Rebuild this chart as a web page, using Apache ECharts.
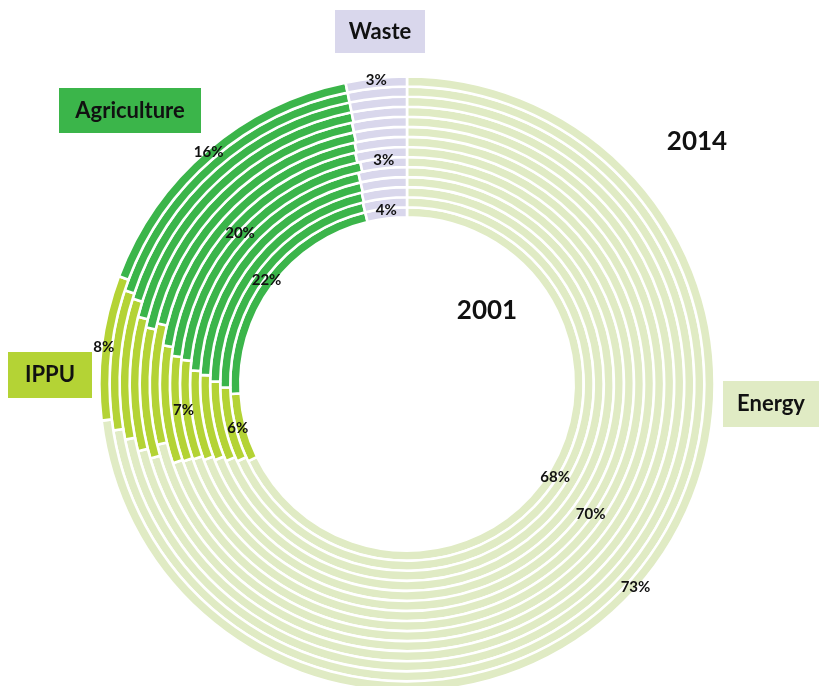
<!DOCTYPE html>
<html>
<head>
<meta charset="utf-8">
<script src="https://cdn.jsdelivr.net/npm/echarts@6/dist/echarts.min.js"></script>
<style>
  html, body { margin: 0; padding: 0; background: #fff; }
  #chart { width: 819px; height: 686px; }
</style>
</head>
<body>
<div id="chart"></div>
<script>
// ---- data (shares in % per year, inner ring = 2001, outer ring = 2014) ----
const years = [2001, 2002, 2003, 2004, 2005, 2006, 2007, 2008, 2009, 2010, 2011, 2012, 2013, 2014];
const categories = ['Energy', 'IPPU', 'Agriculture', 'Waste'];
const energy      = [67.8, 68.2, 68.6, 69.0, 69.3, 69.6, 69.7, 69.8, 71.2, 70.5, 71.1, 71.9, 72.5, 73.1];
const ippu        = [6.3, 6.5, 6.6, 6.7, 6.7, 7.1, 7.2, 7.7, 7.6, 7.9, 7.8, 7.9, 7.6, 7.6];
const agriculture = [22.1, 21.5, 21.1, 20.7, 20.4, 20.0, 19.6, 19.1, 17.9, 18.3, 17.9, 17.0, 16.7, 16.1];
const waste       = [3.8, 3.8, 3.7, 3.6, 3.6, 3.3, 3.5, 3.4, 3.3, 3.3, 3.2, 3.2, 3.2, 3.2];
const labelledYears = [2001, 2006, 2014];
const yearTitles = ['2001', '2014'];

// ---- styles ----
const colors = ['#E0EBC4', '#B4D335', '#3BB54A', '#D9D7EC'];
const FONT = 'Lato, "Open Sans", "DejaVu Sans", sans-serif';
const CX = 407, CY = 384;
const R0 = 168, PITCH = 10.05, THICK = 7.6, BW = 2.6;

const chart = echarts.init(document.getElementById('chart'), null, { renderer: 'canvas' });

const series = years.map((yr, k) => {
  const seriesData = categories.map((c, i) => ({
    name: c,
    value: [energy, ippu, agriculture, waste][i][k],
    itemStyle: { color: colors[i] }
  }));
  const r1 = R0 + k * PITCH;
  return {
    type: 'pie',
    name: String(yr),
    center: [CX, CY],
    radius: [r1 - BW / 2, r1 + THICK + BW / 2],
    startAngle: 90,
    clockwise: true,
    silent: true,
    animation: false,
    avoidLabelOverlap: false,
    itemStyle: { borderColor: '#ffffff', borderWidth: BW },
    label: {
      show: labelledYears.includes(yr),
      position: 'inside',
      formatter: (p) => Math.round(p.value) + '%',
      color: '#111',
      fontFamily: FONT,
      fontWeight: 'bold',
      fontSize: 15
    },
    labelLine: { show: false },
    emphasis: { disabled: true },
    z: 2,
    data: seriesData
  };
});

function box(x, y, w, h, fill, text) {
  return [
    { type: 'rect', shape: { x: x, y: y, width: w, height: h }, style: { fill: fill }, silent: true, z: 10 },
    { type: 'text', x: x + w / 2, y: y + h / 2, silent: true, z: 11,
      style: { text: text, fill: '#111', font: 'bold 22px ' + FONT, textAlign: 'center', textVerticalAlign: 'middle' } }
  ];
}

const graphic = [].concat(
  box(335, 10, 90, 43, colors[3], categories[3]),
  box(59, 88, 142, 45, colors[2], categories[2]),
  box(8, 352, 84, 46, colors[1], categories[1]),
  box(723, 381, 96, 46, colors[0], categories[0]),
  [
    { type: 'text', x: 697, y: 142, silent: true, z: 11,
      style: { text: yearTitles[1], fill: '#111', font: 'bold 26px ' + FONT, textAlign: 'center', textVerticalAlign: 'middle' } },
    { type: 'text', x: 487, y: 311, silent: true, z: 11,
      style: { text: yearTitles[0], fill: '#111', font: 'bold 26px ' + FONT, textAlign: 'center', textVerticalAlign: 'middle' } }
  ]
);

chart.setOption({
  backgroundColor: '#ffffff',
  animation: false,
  series: series,
  graphic: graphic
});
</script>
</body>
</html>
